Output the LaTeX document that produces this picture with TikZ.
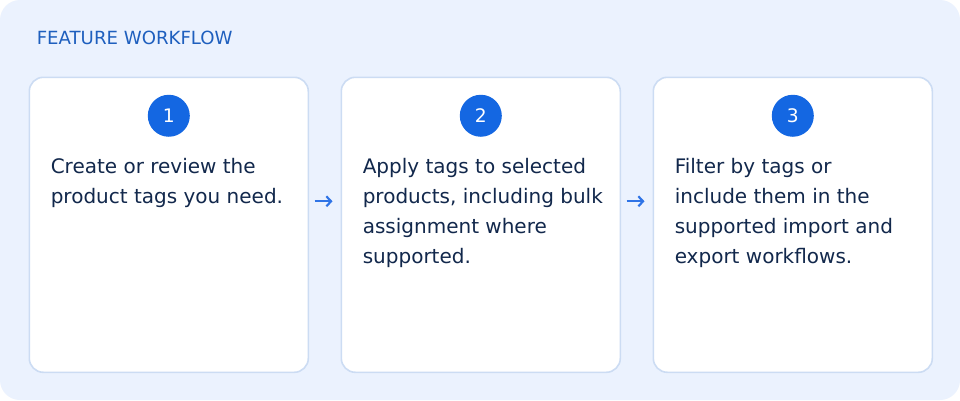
\documentclass[tikz,border=0pt]{standalone}
\usepackage{fontspec}
\setmainfont{DejaVu Sans}
\usetikzlibrary{arrows.meta,positioning}

\definecolor{panelbg}{HTML}{EBF2FE}
\definecolor{cardline}{HTML}{CCDCF3}
\definecolor{titleblue}{HTML}{1E5FBE}
\definecolor{badgeblue}{HTML}{1467E2}
\definecolor{arrowblue}{HTML}{2F74E6}
\definecolor{bodytext}{HTML}{12284C}

\tikzset{
  card/.style={draw=cardline, line width=1.2pt, fill=white, rounded corners=10.5pt,
    minimum width=209.25pt, minimum height=221.25pt, inner sep=0pt, anchor=north west},
  badge/.style={circle, fill=badgeblue, text=white, minimum size=31.5pt, inner sep=0pt,
    font=\fontsize{14pt}{16pt}\selectfont},
  stepbody/.style={text=bodytext, align=left, inner sep=0pt, anchor=north west,
    font=\fontsize{15pt}{22.5pt}\selectfont},
  flow/.style={draw=arrowblue, line width=1.6pt, -{Straight Barb[length=3.5pt,width=7.5pt]}}
}

\begin{document}
\begin{tikzpicture}[x=0.75pt,y=-0.75pt]

    % page and panel
    \fill[white] (0,0) rectangle (960,400);
    \useasboundingbox (0,0) rectangle (960,400);
    \fill[panelbg, rounded corners=15pt] (0,0) rectangle (960,400);

    \node[text=titleblue, anchor=base west, inner sep=0pt,
      font=\fontsize{13.6pt}{15pt}\selectfont] (title) at (36.5,44) {FEATURE WORKFLOW};

    % 3 cards, each with a number badge and its text
    \foreach \i/\body in {1/{Create or review the\\product tags you need.},
        2/{Apply tags to selected\\products, including bulk\\assignment where\\supported.},
        3/{Filter by tags or\\include them in the\\supported import and\\export workflows.}} {
      \node[card] (card\i) at ({28.5+(\i-1)*312},76.5) {};
      \node[badge, below=13.5pt of card\i.north] (badge\i) {\i};
      \node[stepbody] (body\i) at ([shift={(22,75.5)}]card\i.north west) {\strut\body};
    }

    % arrows between the cards
    \foreach \a/\b in {1/2,2/3} {
      \draw[flow] ([shift={(5.5,-23.5)}]card\a.east) -- ([shift={(-8,-23.5)}]card\b.west);
    }

\end{tikzpicture}
\end{document}
